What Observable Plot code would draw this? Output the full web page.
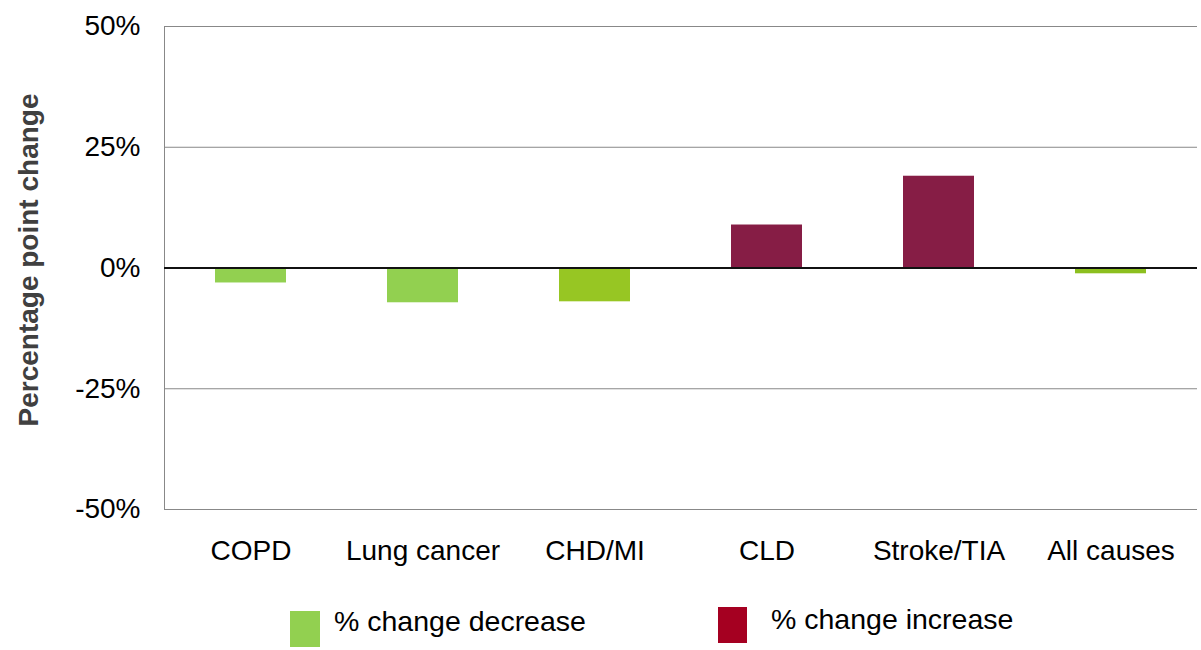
<!DOCTYPE html>
<html>
<head>
<meta charset="utf-8">
<script src="https://cdn.jsdelivr.net/npm/d3@7"></script>
<script src="https://cdn.jsdelivr.net/npm/@observablehq/plot@0.6"></script>
<style>
  body { margin: 0; background: #fff; font-family: "Liberation Sans", Arial, sans-serif; }
  #wrap { position: relative; width: 1201px; height: 650px; }
  .leg { position: absolute; font-size: 28.5px; line-height: 32px; color: #000; white-space: nowrap; }
  .sw { position: absolute; }
</style>
</head>
<body>
<div id="wrap"></div>
<script>
const categories = ["COPD", "Lung cancer", "CHD/MI", "CLD", "Stroke/TIA", "All causes"];
const values = [-3.1, -7.2, -7.0, 8.9, 19.0, -1.2];
const barColors = ["#92D050", "#92D050", "#97C623", "#861D45", "#861D45", "#8CBF1F"];
const yTicks = [-50, -25, 0, 25, 50];
const legendLabels = ["% change decrease", "% change increase"];
const legendColors = ["#92D050", "#A50021"];
const yTitle = "Percentage point change";

const data = categories.map((c, i) => ({cat: c, value: values[i], color: barColors[i]}));

const chart = Plot.plot({
  width: 1201,
  height: 590,
  marginTop: 26,
  marginBottom: 81,
  marginLeft: 164,
  marginRight: 4,
  style: {fontFamily: "Liberation Sans, Arial, sans-serif", fontSize: "28px", color: "#000", background: "#fff", overflow: "visible"},
  x: {domain: categories, paddingInner: 0.59, paddingOuter: 0.295, label: null},
  y: {domain: [-50, 50], label: null},
  marks: [
    Plot.ruleY(yTicks.filter(d => d !== 0), {stroke: "#888", strokeWidth: 1}),
    Plot.frame({anchor: "left", stroke: "#888", strokeWidth: 1}),
    Plot.barY(data, {x: "cat", y: "value", fill: "color"}),
    Plot.ruleY([0], {stroke: "#111", strokeWidth: 2}),
    Plot.axisY({ticks: yTicks, tickSize: 0, tickPadding: 24, tickFormat: d => d + "%", fontSize: 28, label: null}),
    Plot.axisX({tickSize: 0, tickPadding: 31, fontSize: 28, label: null}),
    Plot.text([yTitle], {frameAnchor: "left", dx: -135, dy: -8, rotate: -90, textAnchor: "middle", fontWeight: "bold", fontSize: 28, fill: "#404040"})
  ]
});
const wrap = document.getElementById("wrap");
wrap.appendChild(chart);

// legend
const legPos = [
  {sx: 290, sy: 611, w: 30, h: 36, tx: 334, ty: 605},
  {sx: 718, sy: 607, w: 29, h: 36, tx: 771, ty: 603}
];
legendLabels.forEach((lab, i) => {
  const p = legPos[i];
  const sw = document.createElement("div");
  sw.className = "sw";
  Object.assign(sw.style, {left: p.sx + "px", top: p.sy + "px", width: p.w + "px", height: p.h + "px", background: legendColors[i]});
  wrap.appendChild(sw);
  const t = document.createElement("div");
  t.className = "leg";
  t.textContent = lab;
  Object.assign(t.style, {left: p.tx + "px", top: p.ty + "px"});
  wrap.appendChild(t);
});
</script>
</body>
</html>
